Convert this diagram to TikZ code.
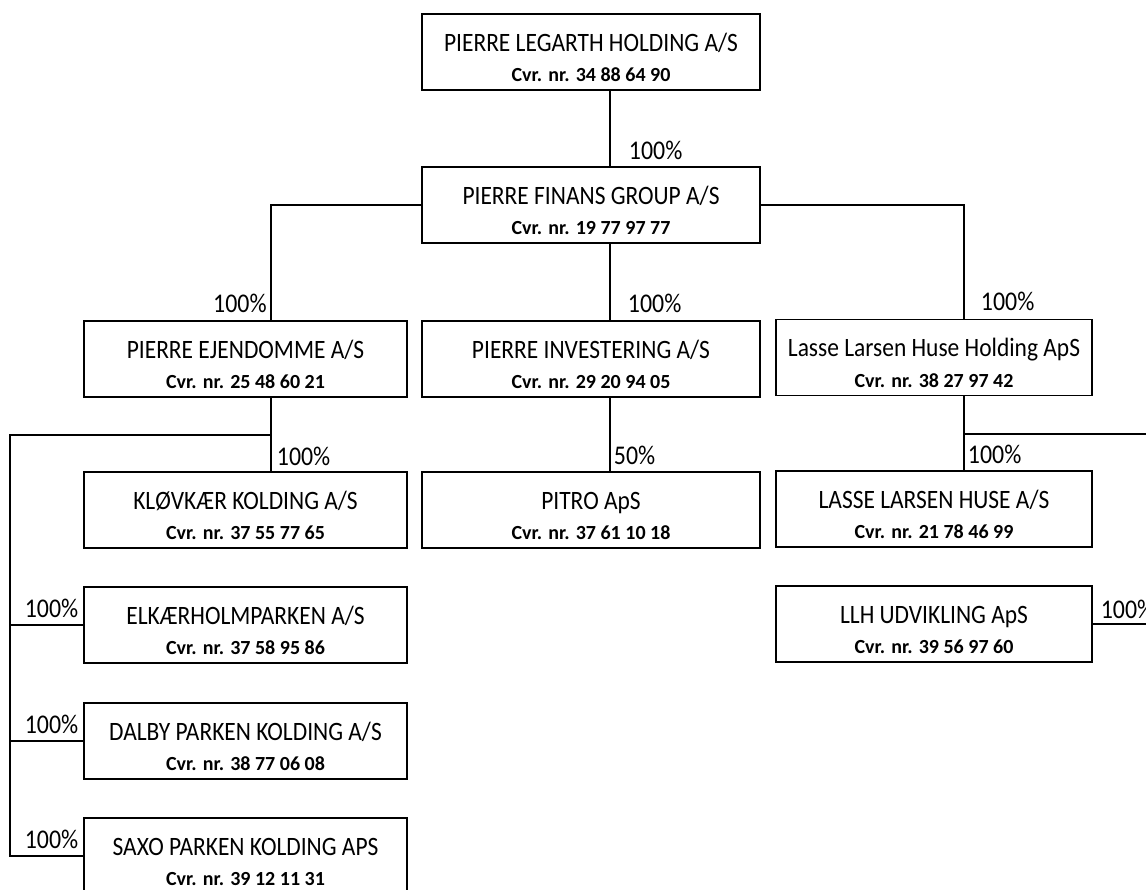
\documentclass[tikz,border=0pt]{standalone}
\usepackage{fontspec}
\setmainfont{Carlito}
\tikzset{
  firm/.style={draw, line width=1.8pt, minimum height=76pt, inner sep=0pt},
  firmname/.style={anchor=base, inner sep=0pt, font=\fontsize{26.5}{30}\selectfont},
  cvr/.style={anchor=base, inner sep=0pt, font=\fontsize{20}{23}\selectfont\bfseries},
  pct/.style={inner sep=0pt, font=\fontsize{27}{30}\selectfont},
  own/.style={line width=1.8pt},
}
% narrow the text a bit, like the scanned original
\newcommand\narrow[1]{\scalebox{0.885}[1]{#1}}
% box with company name and Cvr number
\newcommand\firmbox[6]{%
  \node[firm, minimum width=#4pt] (#1) at (#2,#3) {};
  \node[firmname] (#1name) at ([yshift=-38pt]#1.north) {\narrow{#5}};
  \node[cvr] (#1cvr) at ([yshift=-68.5pt]#1.north) {Cvr. nr. #6};}

\begin{document}
\begin{tikzpicture}[x=1pt,y=-1pt]
\clip (0,0) rectangle (1146,890);
\fill[white] (0,0) rectangle (1146,890);

\firmbox{hold}{591}{52}{338}{PIERRE LEGARTH HOLDING A/S}{34 88 64 90}
\firmbox{pfg}{591}{205}{338}{PIERRE FINANS GROUP A/S}{19 77 97 77}
\firmbox{ejd}{245.5}{359}{323}{PIERRE EJENDOMME A/S}{25 48 60 21}
\firmbox{inv}{591}{359}{338}{PIERRE INVESTERING A/S}{29 20 94 05}
\firmbox{llhh}{934}{357.5}{316}{Lasse Larsen Huse Holding ApS}{38 27 97 42}
\firmbox{klov}{245.5}{510}{323}{KLØVKÆR KOLDING A/S}{37 55 77 65}
\firmbox{pitro}{591}{510}{338}{PITRO ApS}{37 61 10 18}
\firmbox{llh}{934}{509}{316}{LASSE LARSEN HUSE A/S}{21 78 46 99}
\firmbox{elk}{245.5}{625}{323}{ELKÆRHOLMPARKEN A/S}{37 58 95 86}
\firmbox{llhu}{934}{624}{316}{LLH UDVIKLING ApS}{39 56 97 60}
\firmbox{dalby}{245.5}{741}{323}{DALBY PARKEN KOLDING A/S}{38 77 06 08}
\firmbox{saxo}{245.5}{856}{323}{SAXO PARKEN KOLDING APS}{39 12 11 31}

% ownership lines
\draw[own] ([xshift=19pt]hold.south) -- node[pct, pos=1, anchor=base west, xshift=18pt, yshift=7pt] {\narrow{100\%}} ([xshift=19pt]pfg.north);
\draw[own] (pfg.west) -| node[pct, pos=1, anchor=base east, xshift=-3.5pt, yshift=8pt] {\narrow{100\%}} ([xshift=25.5pt]ejd.north);
\draw[own] ([xshift=19pt]pfg.south) -- node[pct, pos=1, anchor=base west, xshift=17pt, yshift=8pt] {\narrow{100\%}} ([xshift=19pt]inv.north);
\draw[own] (pfg.east) -| node[pct, pos=1, anchor=base west, xshift=16pt, yshift=8pt] {\narrow{100\%}} ([xshift=30pt]llhh.north);

\draw[own] ([xshift=25.5pt]ejd.south) -- node[pct, pos=1, anchor=base west, xshift=5pt, yshift=6pt] {\narrow{100\%}} ([xshift=25.5pt]klov.north);
\coordinate (ejdfork) at (271,435);
\coordinate (trunk) at (10,435);
\draw[own] (ejdfork) -- (trunk) |- node[pct, pos=1, anchor=base east, xshift=-4pt, yshift=8pt] {\narrow{100\%}} (saxo.west);
\draw[own] (trunk |- elk.west) -- node[pct, pos=1, anchor=base east, xshift=-4pt, yshift=8pt] {\narrow{100\%}} (elk.west);
\draw[own] (trunk |- dalby.west) -- node[pct, pos=1, anchor=base east, xshift=-4pt, yshift=8pt] {\narrow{100\%}} (dalby.west);

\draw[own] ([xshift=19pt]inv.south) -- node[pct, pos=1, anchor=base west, xshift=3pt, yshift=7pt] {\narrow{50\%}} ([xshift=19pt]pitro.north);
\draw[own] ([xshift=30pt]llhh.south) -- node[pct, pos=1, anchor=base west, xshift=3pt, yshift=7pt] {\narrow{100\%}} ([xshift=30pt]llh.north);
\coordinate (llhfork) at (964,434);
\coordinate (llhout) at (1170,434);
\draw[own] (llhfork) -- (llhout);
\coordinate (llhuout) at ([xshift=80pt]llhu.east);
\draw[own] (llhu.east) -- node[pct, pos=0, anchor=base west, xshift=7pt, yshift=6pt] {\narrow{100\%}} (llhuout);
\end{tikzpicture}
\end{document}
